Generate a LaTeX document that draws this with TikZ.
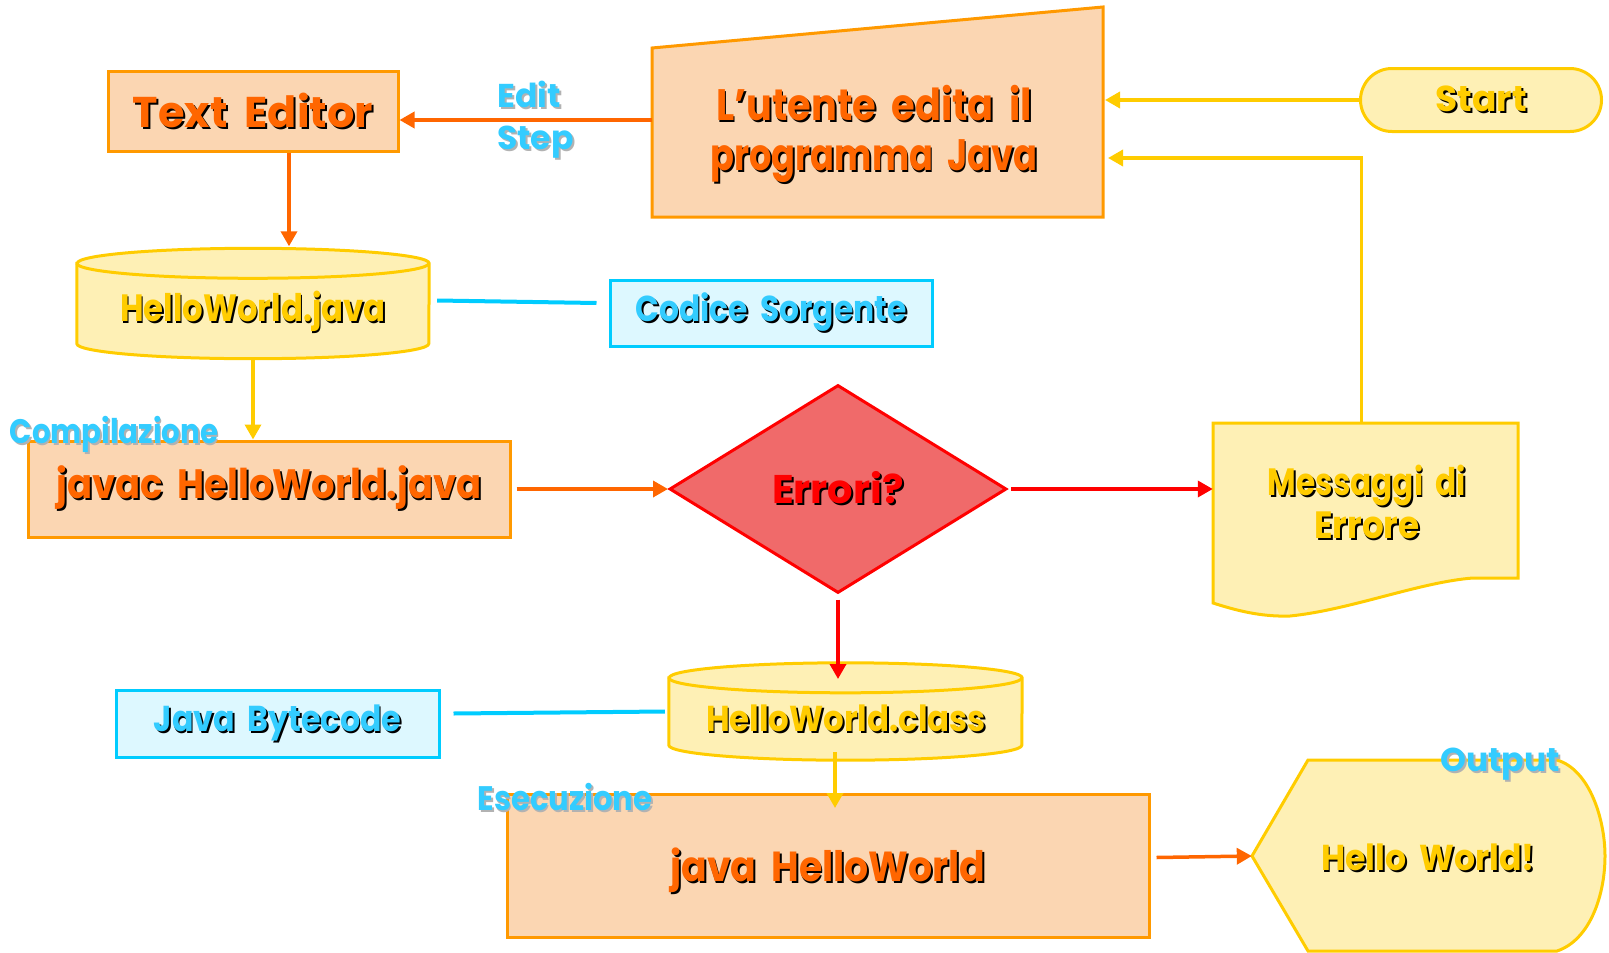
\documentclass[tikz,border=0pt]{standalone}
\usepackage{fontspec}
\setmainfont{Poppins}
\usetikzlibrary{arrows.meta,shapes.misc,shapes.geometric}

\definecolor{ordraw}{HTML}{FF9900}
\definecolor{ortext}{HTML}{FF6600}
\definecolor{peach}{HTML}{FBD6B2}
\definecolor{ydraw}{HTML}{FFCC00}
\definecolor{yfill}{HTML}{FEF0B5}
\definecolor{cdraw}{HTML}{00CCFF}
\definecolor{ctext}{HTML}{33CCFF}
\definecolor{cfill}{HTML}{DDF8FF}
\definecolor{rdraw}{HTML}{FF0000}
\definecolor{rfill}{HTML}{F06A6A}

% text with a dark (or light grey) drop shadow
\newcommand\sh[1]{\leavevmode\rlap{\kern2pt\raisebox{-2pt}{\color{black}#1}}#1}
\newcommand\shg[1]{\leavevmode\rlap{\kern2pt\raisebox{-2pt}{\color{black!30}#1}}#1}
\newcommand\fs[1]{\bfseries\fontsize{#1}{#1}\selectfont\spaceskip=0.4em\relax}
\newcommand\nx[2]{\scalebox{#1}[1]{#2}}

\begin{document}
\begin{tikzpicture}[x=1pt,y=-1pt,line join=miter,
  obox/.style={draw=ordraw,fill=peach,line width=3pt,text=ortext,inner sep=0pt},
  ybox/.style={draw=ydraw,fill=yfill,line width=3pt,text=ydraw,inner sep=0pt},
  cbox/.style={draw=cdraw,fill=cfill,line width=3pt,text=ctext,inner sep=0pt},
  ghost/.style={draw=none,fill=none,inner sep=0pt},
  tag/.style={text=ctext,inner sep=0pt},
  tip/.style={-{Triangle[width=16pt,length=15pt]}},
  oarr/.style={tip,draw=ortext,line width=3.5pt},
  yarr/.style={tip,draw=ydraw,line width=3.5pt},
  rarr/.style={tip,draw=rdraw,line width=3.5pt},
  cline/.style={draw=cdraw,line width=4pt}]
\useasboundingbox (0,0) rectangle (1609,953);

% ---- boxes -------------------------------------------------------------
\node[obox,minimum width=290pt,minimum height=80pt,font=\fs{43}] (editor) at (253,111) {\sh{Text Editor}};

% manual input (slanted top)
\coordinate (ui-a) at (652,48);
\coordinate (ui-b) at (1103,7);
\coordinate (ui-c) at (1103,217);
\coordinate (ui-d) at (652,217);
\filldraw[draw=ordraw,fill=peach,line width=3pt] (ui-a) -- (ui-b) -- (ui-c) -- (ui-d) -- cycle;
\node[ghost,text=ortext,align=center,font=\fs{44},execute at begin node=\setlength{\baselineskip}{50pt}] (ui) at (874,135) {\nx{0.87}{\sh{L'utente edita il}}\\\nx{0.8}{\sh{programma Java}}};

\node[ybox,rounded rectangle,minimum width=241pt,minimum height=63pt,font=\fs{36}] (start) at (1481,100) {\sh{Start}};

% source file cylinder
\node[ghost,minimum width=352pt,minimum height=110pt] (src) at (253,303.5) {};
\path[draw=ydraw,fill=yfill,line width=3pt]
  ([yshift=-15pt]src.north west) -- ([yshift=15pt]src.south west)
  arc[start angle=180,end angle=360,x radius=176pt,y radius=15pt]
  -- ([yshift=-15pt]src.north east)
  arc[start angle=0,end angle=180,x radius=176pt,y radius=15pt] -- cycle;
\draw[draw=ydraw,line width=3pt] ([yshift=-15pt]src.north west)
  arc[start angle=180,end angle=360,x radius=176pt,y radius=15pt];
\node[ghost,text=ydraw,font=\fs{38}] (srctxt) at (253,312) {\nx{0.85}{\sh{HelloWorld.java}}};

\node[cbox,minimum width=322pt,minimum height=66pt,font=\fs{36}] (code) at (771,313) {\nx{0.87}{\sh{Codice Sorgente}}};

\node[obox,minimum width=482pt,minimum height=96pt,font=\fs{41}] (javac) at (269,489) {\nx{0.9}{\sh{javac HelloWorld.java}}};

\node[diamond,draw=rdraw,fill=rfill,line width=3pt,inner sep=0pt,minimum width=337pt,minimum height=208pt,text=rdraw,font=\fs{40}] (dia) at (838,489) {\sh{Errori?}};

% error messages (document shape)
\node[ghost,minimum width=305pt,minimum height=180pt] (msg) at (1365.5,513) {};
\filldraw[draw=ydraw,fill=yfill,line width=3pt]
  (1213,423) -- (1518,423) -- (1518,578) -- (1473,578)
  .. controls (1420,582) and (1350,610) .. (1290,616)
  .. controls (1260,617) and (1235,610) .. (1213,603) -- cycle;
\node[ghost,text=ydraw,align=center,font=\fs{38},execute at begin node=\setlength{\baselineskip}{43pt}] (msgtxt) at (1367,503) {\nx{0.82}{\sh{Messaggi di}}\\\nx{0.9}{\sh{Errore}}};

% bytecode cylinder
\node[ghost,minimum width=353pt,minimum height=97pt] (cls) at (845.5,711.5) {};
\path[draw=ydraw,fill=yfill,line width=3pt]
  ([yshift=-15pt]cls.north west) -- ([yshift=15pt]cls.south west)
  arc[start angle=180,end angle=360,x radius=176.5pt,y radius=15pt]
  -- ([yshift=-15pt]cls.north east)
  arc[start angle=0,end angle=180,x radius=176.5pt,y radius=15pt] -- cycle;
\draw[draw=ydraw,line width=3pt] ([yshift=-15pt]cls.north west)
  arc[start angle=180,end angle=360,x radius=176.5pt,y radius=15pt];
\node[ghost,text=ydraw,font=\fs{36}] (clstxt) at (846,719) {\nx{0.9}{\sh{HelloWorld.class}}};

\node[cbox,minimum width=323pt,minimum height=67pt,font=\fs{36}] (byte) at (277.5,723.5) {\nx{0.88}{\sh{Java Bytecode}}};

\node[obox,minimum width=642pt,minimum height=143pt,font=\fs{42},text height=41pt,text depth=9pt] (java) at (828,865.5) {\nx{0.9}{\sh{java HelloWorld}}};

% display shape
\node[ghost,minimum width=353pt,minimum height=191pt] (out) at (1428.5,856) {};
\filldraw[draw=ydraw,fill=yfill,line width=3pt]
  (1252,856) -- (1308,760) -- (1557,760)
  .. controls (1590,770) and (1605,820) .. (1605,856)
  .. controls (1605,895) and (1590,940) .. (1557,951)
  -- (1308,951) -- cycle;
\node[ghost,text=ydraw,font=\fs{36}] (outtxt) at (1428,858) {\nx{0.92}{\sh{Hello World!}}};

% ---- connectors --------------------------------------------------------
\coordinate (ui-in1) at (1105,100);
\coordinate (ui-in2) at (1108,158);
\coordinate (cls-in) at (838,679);
\coordinate (run-in) at (835,808);

\draw[yarr] (start.west) -- (ui-in1);
\draw[yarr] ([xshift=-4pt]msg.north) |- (ui-in2);
\draw[oarr] (ui-d |- 0,120) -- (editor.east |- 0,120);
\draw[oarr] ([xshift=36pt]editor.south) -- ([xshift=36pt,yshift=2pt]src.north);
\draw[yarr] (src.south) -- (src.south |- javac.north);
\draw[oarr] ([xshift=5pt]javac.east) -- (dia.west);
\draw[rarr] ([xshift=3pt]dia.east) -- (dia.east -| msg.west);
\draw[rarr] ([yshift=-5pt]dia.south) -- (cls-in);
\draw[yarr] ([yshift=8pt]cls.south -| run-in) -- (run-in);
\draw[oarr] ([xshift=6pt,yshift=8pt]java.east) -- (out.west);
\draw[cline] ([xshift=8pt,yshift=3pt]src.east) -- ([xshift=-12pt,yshift=10pt]code.west);
\draw[cline] ([xshift=13pt,yshift=10pt]byte.east) -- ([xshift=-4pt]cls.west);

% ---- stage labels ------------------------------------------------------
\node[tag,anchor=west,align=left,font=\fs{33},execute at begin node=\setlength{\baselineskip}{42pt}] (edit) at (497,121) {\shg{Edit}\\\shg{Step}};
\node[tag,font=\fs{34}] (comp) at (114,435) {\nx{0.86}{\shg{Compilazione}}};
\node[tag,font=\fs{34}] (exec) at (565,798) {\nx{0.9}{\shg{Esecuzione}}};
\node[tag,font=\fs{33}] (outlbl) at (1500,765) {\shg{Output}};
\end{tikzpicture}
\end{document}
